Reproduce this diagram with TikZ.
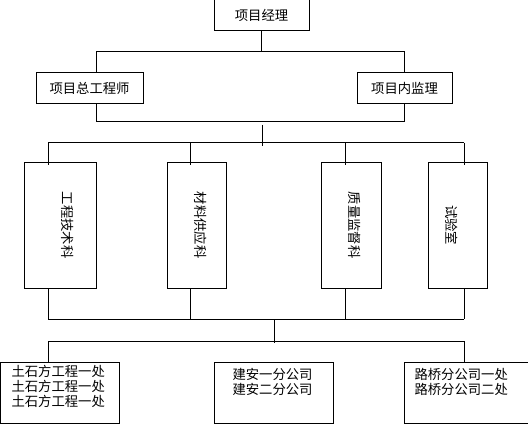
\documentclass[tikz,border=0pt]{standalone}
\usepackage{fontspec}
\newfontfamily\cjk{Noto Sans CJK SC}
\usetikzlibrary{positioning}

\begin{document}
\begin{tikzpicture}[x=0.75pt, y=-0.75pt, line width=0.75pt,
  every node/.style={font=\cjk\fontsize{10}{11.25}\selectfont, inner sep=0pt},
  unitbox/.style 2 args={draw, minimum width=#1*0.75pt, minimum height=#2*0.75pt},
  vlabel/.style={rotate=-90},
  teamtext/.style={anchor=north west, align=left}]
  \useasboundingbox (0,0) rectangle (528,424);
  % top levels
  \node[unitbox={95}{31}] (pm) at (261.5,15.5) {项目经理};
  \node[unitbox={107}{31}] (chief) at (89.5,88.5) {项目总工程师};
  \node[unitbox={95}{31}] (supv) at (404.5,88.5) {项目内监理};
  % departments
  \node[unitbox={72}{125}] (tech) at (60,225.5) {};
  \node[unitbox={59}{125}] (supply) at (196.5,225.5) {};
  \node[unitbox={60}{125}] (quality) at (351,225.5) {};
  \node[unitbox={59}{125}] (lab) at (457.5,225.5) {};
  \node[vlabel] (techlab) at (68,225) {工程技术科};
  \node[vlabel] (supplylab) at (201,225) {材料供应科};
  \node[vlabel] (qualitylab) at (355,225) {质量监督科};
  \node[vlabel] (lablab) at (452,225) {试验室};
  % teams
  \node[unitbox={118.5}{61}] (team1) at (59.75,392.5) {};
  \node[unitbox={119}{61}] (team2) at (273.5,392.5) {};
  \node[unitbox={136}{61}] (team3) at (472,392.5) {};
  \node[teamtext] (team1lab) at (11,365) {土石方工程一处\\土石方工程一处\\土石方工程一处};
  \node[teamtext] (team2lab) at (232,368) {建安一分公司\\建安二分公司};
  \node[teamtext] (team3lab) at (414,368) {路桥分公司一处\\路桥分公司二处};
  % connectors
  \coordinate (mgrL) at (96,52);
  \coordinate (mgrR) at (404,52);
  \draw (pm.south) -- (pm.south |- mgrL);
  \draw (mgrL |- chief.north) -- (mgrL) -- (mgrR) -- (mgrR |- supv.north);
  \coordinate (engL) at (96,122);
  \coordinate (engR) at (404,122);
  \draw (engL |- chief.south) -- (engL) -- (engR) -- (engR |- supv.south);
  \coordinate (deptTop) at (262,125);
  \coordinate (deptBus) at (262,146);
  \draw (deptTop) -- (deptBus);
  \foreach \n/\x in {tech/48, supply/190, quality/345, lab/464}{
    \coordinate (\n-top) at (\x,143);
    \coordinate (\n-bot) at (\x,319);
    \draw (\n-top) -- ([yshift=-2.25pt]\n-top |- \n.north);
    \draw (\n-bot |- \n.south) -- (\n-bot);
  }
  \draw (tech-top) -- (lab-top);
  \draw (tech-bot) -- (lab-bot);
  \coordinate (teamTop) at (274,319);
  \coordinate (teamBus) at (274,343);
  \draw (teamTop) -- (teamBus);
  \coordinate (teamL) at (48,341);
  \coordinate (teamR) at (464,341);
  \draw (teamL |- team1.north) -- (teamL) -- (teamR) -- (teamR |- team3.north);
\end{tikzpicture}
\end{document}
